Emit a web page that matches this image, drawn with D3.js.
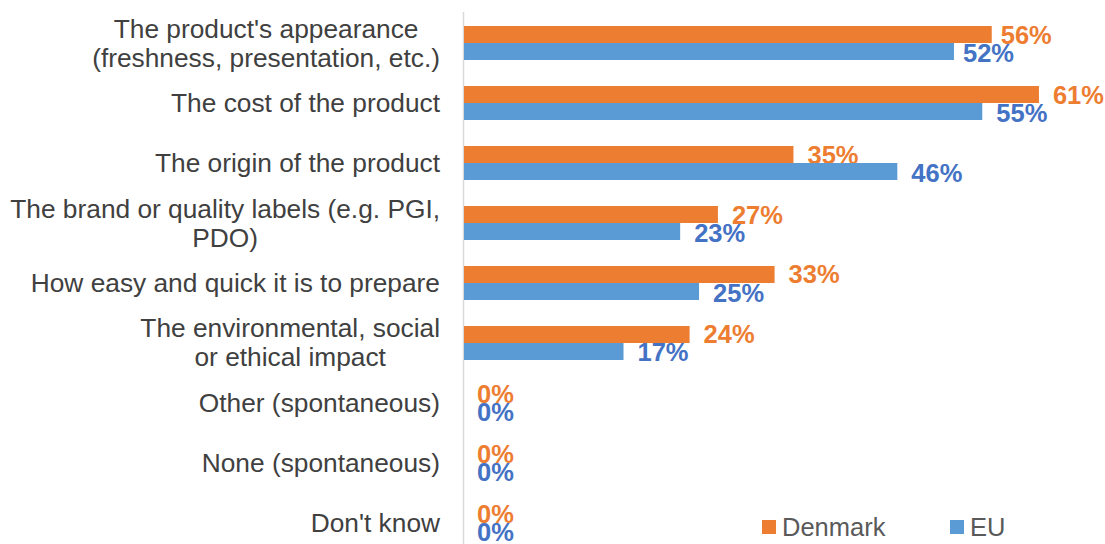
<!DOCTYPE html>
<html><head><meta charset="utf-8">
<script src="https://cdn.jsdelivr.net/npm/d3@7"></script>
<style>body{margin:0;background:#fff}svg{display:block}</style>
</head><body>
<svg id="c" width="1105" height="544"></svg>
<script>
const categories = [
  ["The product's appearance","(freshness, presentation, etc.)"],
  ["The cost of the product"],
  ["The origin of the product"],
  ["The brand or quality labels (e.g. PGI,","PDO)"],
  ["How easy and quick it is to prepare"],
  ["The environmental, social","or ethical impact"],
  ["Other (spontaneous)"],
  ["None (spontaneous)"],
  ["Don't know"]
];
const seriesNames = ["Denmark","EU"];
const denmark = [56,61,35,27,33,24,0,0,0];
const eu = [52,55,46,23,25,17,0,0,0];
const barColors = ["#ED7D31","#5B9BD5"];
const labelColors = ["#ED7D31","#4472C4"];

const svg = d3.select("#c");
const font = "'Liberation Sans', Arial, sans-serif";
const fs = 25.5;
const catFs = 26.3;
const x = d3.scaleLinear().domain([0,60]).range([463,1029.5]);
const y = d3.scaleBand().domain(d3.range(categories.length)).range([13,553]).paddingInner(0.4333).paddingOuter(0.2167);
const ys = d3.scaleBand().domain([0,1]).range([0,y.bandwidth()]);
const values = [denmark, eu];

// axis line
svg.append("line").attr("x1",463.5).attr("x2",463.5).attr("y1",12).attr("y2",544)
  .attr("stroke","#D9D9D9").attr("stroke-width",1.5);

values.forEach((vals,s)=>{
  const g = svg.append("g");
  g.selectAll("rect").data(vals).join("rect")
    .attr("x",x(0)+1).attr("y",(d,i)=>y(i)+ys(s))
    .attr("width",d=>Math.max(0,x(d)-x(0)-1)).attr("height",ys.bandwidth())
    .attr("fill",barColors[s]);
  g.selectAll("text").data(vals).join("text")
    .attr("x",(d,i)=>x(d)+(i===0?9:14)).attr("y",(d,i)=>y(i)+ys(s)+ys.bandwidth()/2+(s?10:9))
    .attr("font-family",font).attr("font-weight","bold").attr("font-size",fs)
    .attr("fill",labelColors[s]).text(d=>d+"%");
});

// category labels
categories.forEach((lines,i)=>{
  const cy = y(i)+y.bandwidth()/2;
  const lh = 29;
  const t = svg.append("text").attr("font-family",font).attr("font-size",catFs).attr("fill","#404040")
    .attr("text-anchor","middle");
  const spans = lines.map((l,k)=>t.append("tspan").text(l)
    .attr("y",cy+(k-(lines.length-1)/2)*lh+9));
  let w = 0; spans.forEach(sp=>{w=Math.max(w,sp.node().getComputedTextLength());});
  spans.forEach(sp=>sp.attr("x",440-w/2));
});

// legend
const legX = [762,950];
seriesNames.forEach((n,s)=>{
  svg.append("rect").attr("x",legX[s]).attr("y",520).attr("width",14).attr("height",14).attr("fill",barColors[s]);
  svg.append("text").attr("x",legX[s]+20).attr("y",536).attr("font-family",font).attr("font-size",fs)
    .attr("fill","#595959").text(n);
});
</script>
</body></html>
